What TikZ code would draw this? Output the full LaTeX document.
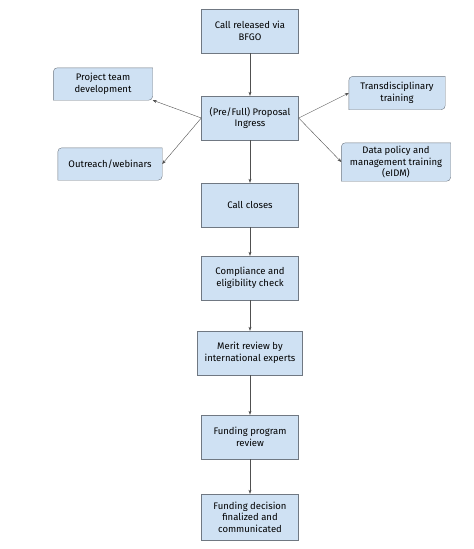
\documentclass[tikz,border=0pt]{standalone}
\usepackage{fontspec}
\setmainfont{Fira Sans}
\usetikzlibrary{arrows.meta,positioning,backgrounds}
\definecolor{boxfill}{RGB}{207,225,243}
\definecolor{boxline}{RGB}{112,120,130}
\definecolor{arrowline}{RGB}{80,80,80}

\begin{document}
\begin{tikzpicture}[x=1pt,y=-1pt,
	every node/.style={align=center,inner sep=2pt,font=\fontsize{9.5}{11.5}\selectfont},
	stepbox/.style={draw=boxline,fill=boxfill,minimum width=97pt,minimum height=44pt},
	sidebox/.style={minimum height=32pt},
	flow/.style={draw=arrowline,-{Stealth[length=4pt,width=3pt]}}]
	\useasboundingbox (0,0) rectangle (474,549);

	% main column
	\node[stepbox] (call) at (250,31) {Call released via\\BFGO};
	\node[stepbox] (ingress) at (250,118) {(Pre/Full) Proposal\\Ingress};
	\node[stepbox] (closes) at (250,205) {Call closes};
	\node[stepbox] (check) at (250,278) {Compliance and\\eligibility check};
	\node[stepbox,minimum width=105pt] (merit) at (250,353) {Merit review by\\international experts};
	\node[stepbox] (program) at (250,437) {Funding program\\review};
	\node[stepbox,minimum height=46pt] (decision) at (250,517) {Funding decision\\finalized and\\communicated};

	% side activities
	\node[sidebox,minimum width=99pt] (team) at (103,84) {Project team\\development};
	\node[sidebox,minimum width=104pt] (outreach) at (110,164) {Outreach/webinars};
	\node[sidebox,minimum width=96pt,minimum height=33pt] (trans) at (397,93) {Transdisciplinary\\training};
	\node[sidebox,minimum width=109pt,minimum height=38pt] (data) at (396,162) {Data policy and\\management training\\(eIDM)};

	\begin{scope}[on background layer]
		\foreach \n in {team,outreach,trans,data}
			\filldraw[draw=boxline,fill=boxfill] (\n.south west) -- ([yshift=-4pt]\n.north west)
				arc[start angle=180,end angle=90,radius=4pt] -- (\n.north east)
				-- ([yshift=4pt]\n.south east) arc[start angle=0,end angle=-90,radius=4pt] -- cycle;
	\end{scope}

	\draw[flow] (call) -- (ingress);
	\draw[flow] (ingress) -- (closes);
	\draw[flow] (closes) -- (check);
	\draw[flow] (check) -- (merit);
	\draw[flow] (merit) -- (program);
	\draw[flow] (program) -- (decision);

	\draw[flow] (ingress.west) -- (team.south east);
	\draw[flow] (ingress.west) -- (outreach.east);
	\draw[flow] (ingress.east) -- (trans.west);
	\draw[flow] (ingress.east) -- (data.west);
\end{tikzpicture}
\end{document}
